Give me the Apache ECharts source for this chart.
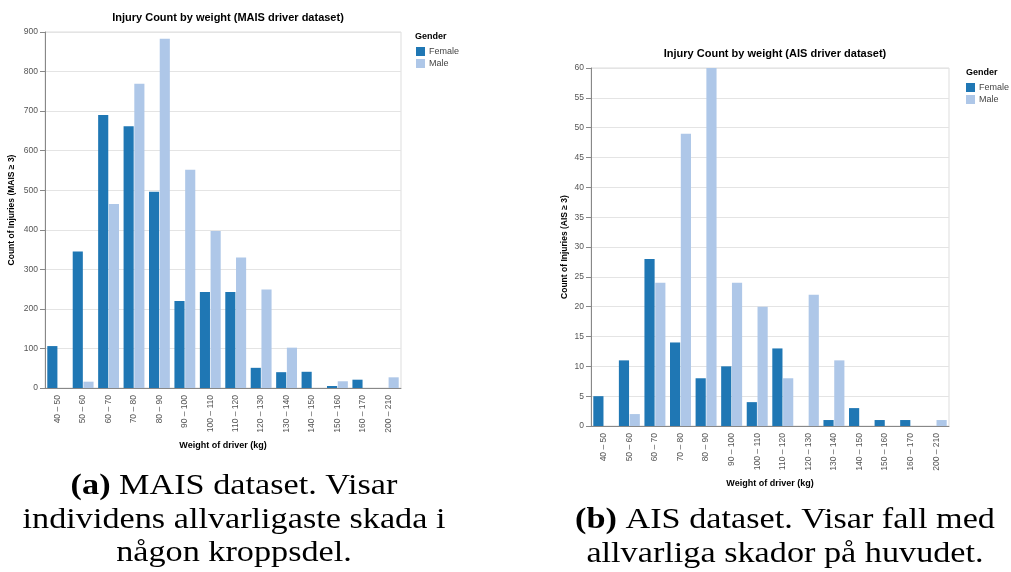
<!DOCTYPE html>
<html>
<head>
<meta charset="utf-8">
<script src="https://cdn.jsdelivr.net/npm/echarts@6/dist/echarts.min.js"></script>
<style>
html,body{margin:0;padding:0;background:#fff;}
#c{width:1011px;height:572px;}
</style>
</head>
<body>
<div id="c"></div>
<script>
var categories = ['40 – 50','50 – 60','60 – 70','70 – 80','80 – 90','90 – 100','100 – 110','110 – 120','120 – 130','130 – 140','140 – 150','150 – 160','160 – 170','200 – 210'];
var maisFemale = [106, 345, 690, 662, 496, 220, 243, 243, 51, 40, 41, 5, 21, 0];
var maisMale   = [0, 16, 465, 769, 883, 552, 397, 330, 249, 102, 0, 17, 0, 27];
var aisFemale  = [5, 11, 28, 14, 8, 10, 4, 13, 0, 1, 3, 1, 1, 0];
var aisMale    = [0, 2, 24, 49, 60, 24, 20, 8, 22, 11, 0, 0, 0, 1];
var maisTicks = {min: 0, max: 900, interval: 100};
var aisTicks = {min: 0, max: 60, interval: 5};

var SANS = 'Liberation Sans, Arial, sans-serif';
var SERIF = 'Liberation Serif, serif';
var FEMALE = '#1f77b4', MALE = '#aec7e8';

function xAxis(gi){
  return {
    type: 'category', gridIndex: gi, data: categories,
    name: 'Weight of driver (kg)', nameLocation: 'middle', nameGap: 51,
    nameTextStyle: {fontFamily: SANS, fontSize: 9, fontWeight: 'bold', color: '#000'},
    axisLine: {lineStyle: {color: '#888'}},
    axisTick: {alignWithLabel: true, length: 5, lineStyle: {color: '#888'}},
    axisLabel: {rotate: 90, fontFamily: SANS, fontSize: 8.5, color: '#555', margin: 7, interval: 0},
    splitLine: {show: false}
  };
}
function yAxis(gi, t, name, gap){
  return {
    type: 'value', gridIndex: gi, min: t.min, max: t.max, interval: t.interval,
    name: name, nameLocation: 'middle', nameGap: gap, nameRotate: 90,
    nameTextStyle: {fontFamily: SANS, fontSize: 8.5, fontWeight: 'bold', color: '#000'},
    axisLine: {show: true, lineStyle: {color: '#888'}},
    axisTick: {show: true, length: 5, lineStyle: {color: '#888'}},
    axisLabel: {fontFamily: SANS, fontSize: 8.5, color: '#555', margin: 7},
    splitLine: {lineStyle: {color: '#e4e4e4'}}
  };
}
function bar(name, data, gi, color){
  return {
    type: 'bar', name: name, data: data, xAxisIndex: gi, yAxisIndex: gi,
    barGap: '6%', barCategoryGap: '18%',
    itemStyle: {color: color}, emphasis: {disabled: true}, animation: false
  };
}
function legend(left, top){
  return {
    orient: 'vertical', left: left, top: top, itemWidth: 9, itemHeight: 9, itemGap: 3,
    icon: 'rect', selectedMode: false, data: ['Female', 'Male'],
    textStyle: {fontFamily: SANS, fontSize: 9, color: '#444', padding: [0, 0, 0, -1]}
  };
}
function caption(x, y, text){
  return {
    type: 'text', x: x, y: y, scaleX: 1.18, scaleY: 1, silent: true,
    style: {
      text: text, align: 'center', verticalAlign: 'top',
      font: 'normal 29px ' + SERIF, fill: '#000', lineHeight: 33.5,
      rich: {b: {fontFamily: SERIF, fontSize: 29, fontWeight: 'bold', fill: '#000', lineHeight: 33.5}}
    }
  };
}

var chart = echarts.init(document.getElementById('c'));
chart.setOption({
  animation: false,
  backgroundColor: '#fff',
  title: [
    {text: 'Injury Count by weight (MAIS driver dataset)', left: 223, top: 7, textAlign: 'center',
     textStyle: {fontFamily: SANS, fontSize: 11, fontWeight: 'bold', color: '#000'}},
    {text: 'Injury Count by weight (AIS driver dataset)', left: 770, top: 43, textAlign: 'center',
     textStyle: {fontFamily: SANS, fontSize: 11, fontWeight: 'bold', color: '#000'}},
    {text: 'Gender', left: 410, top: 27, textStyle: {fontFamily: SANS, fontSize: 9, fontWeight: 'bold', color: '#000'}},
    {text: 'Gender', left: 961, top: 63, textStyle: {fontFamily: SANS, fontSize: 9, fontWeight: 'bold', color: '#000'}}
  ],
  graphic: [
    caption(234, 470, '{b|(a)} MAIS dataset. Visar\nindividens allvarligaste skada i\nnågon kroppsdel.'),
    caption(785, 504, '{b|(b)} AIS dataset. Visar fall med\nallvarliga skador på huvudet.')
  ],
  legend: [legend(411, 42), legend(961, 78)],
  grid: [
    {left: 45, top: 32, width: 356, height: 356, show: true, borderColor: '#ddd', borderWidth: 1, containLabel: false},
    {left: 591, top: 68, width: 358, height: 358, show: true, borderColor: '#ddd', borderWidth: 1, containLabel: false}
  ],
  xAxis: [xAxis(0), xAxis(1)],
  yAxis: [yAxis(0, maisTicks, 'Count of Injuries (MAIS ≥ 3)', 29), yAxis(1, aisTicks, 'Count of Injuries (AIS ≥ 3)', 22)],
  series: [
    bar('Female', maisFemale, 0, FEMALE), bar('Male', maisMale, 0, MALE),
    bar('Female', aisFemale, 1, FEMALE), bar('Male', aisMale, 1, MALE)
  ]
});
</script>
</body>
</html>
